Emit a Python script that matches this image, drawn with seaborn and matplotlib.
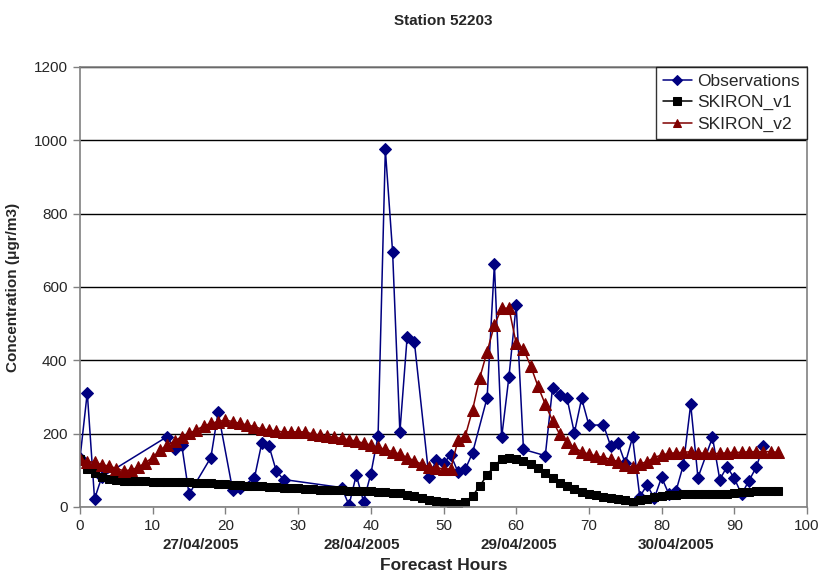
import matplotlib
matplotlib.use("Agg")
import matplotlib.pyplot as plt
import matplotlib.transforms as mtransforms
import seaborn as sns

# observations (hourly, with gaps)
obs_hours = [0, 1, 2, 3, 12, 13, 14, 15, 18, 19, 21, 22, 24, 25, 26, 27, 28,
             36, 37, 38, 39, 40, 41, 42, 43, 44, 45, 46, 48, 49, 50, 51, 52,
             53, 54, 56, 57, 58, 59, 60, 61, 64, 65, 66, 67, 68, 69, 70, 72,
             73, 74, 75, 76, 77, 78, 79, 80, 81, 82, 83, 84, 85, 87, 88, 89,
             90, 91, 92, 93, 94]
obs_vals = [133, 312, 22, 82, 192, 157, 168, 35, 135, 258, 46, 51, 80, 174, 166, 98, 75,
            53, 5, 87, 15, 90, 194, 975, 695, 204, 464, 449, 81, 128, 119, 142, 95,
            103, 148, 298, 662, 190, 355, 551, 157, 140, 325, 306, 296, 202, 296, 223, 224,
            166, 175, 119, 190, 28, 60, 24, 81, 35, 45, 115, 280, 80, 190, 75, 110,
            78, 35, 71, 108, 166]

model_hours = list(range(97))
skiron_v1 = [132, 105, 94, 83, 76, 73, 72, 71, 70, 70, 69, 69, 68, 68, 67, 67, 66, 66, 65, 64,
             62, 60, 59, 58, 57, 56, 55, 54, 53, 52, 51, 50, 49, 47, 47, 46, 46, 45, 45, 44,
             43, 42, 41, 39, 37, 33, 29, 25, 20, 17, 14, 12, 9, 15, 30, 58, 87, 113, 130, 135,
             131, 125, 117, 107, 92, 78, 65, 57, 49, 42, 35, 32, 28, 25, 23, 20, 15, 19, 23, 26,
             29, 32, 33, 35, 35, 35, 35, 35, 35, 36, 39, 41, 42, 44, 45, 45, 45]
skiron_v2 = [131, 124, 122, 115, 112, 105, 99, 101, 108, 121, 135, 155, 169, 180, 192, 201, 210, 221, 228, 233,
             237, 233, 228, 224, 219, 213, 210, 207, 205, 205, 205, 205, 199, 196, 194, 190, 187, 183, 180, 174,
             169, 163, 157, 151, 144, 135, 126, 117, 110, 107, 104, 104, 183, 194, 265, 353, 424, 496, 542, 542,
             446, 431, 384, 329, 280, 235, 198, 176, 162, 151, 144, 139, 135, 130, 124, 115, 108, 117, 124, 135,
             142, 146, 148, 149, 151, 148, 146, 146, 146, 148, 149, 149, 151, 151, 151, 151, 149]

date_labels = ["27/04/2005", "28/04/2005", "29/04/2005", "30/04/2005"]
date_x = [16.6, 38.7, 60.3, 82.0]

sns.set_style("white")
plt.rcParams["font.family"] = ["Liberation Sans", "DejaVu Sans"]

fig = plt.figure(figsize=(8.22, 5.74), dpi=100)
ax = fig.add_axes([80 / 822, 67 / 574, 727 / 822, 440 / 574])

sns.lineplot(x=obs_hours, y=obs_vals, ax=ax, color="#000080", linewidth=1.1,
             marker="D", markersize=6, markeredgecolor="#000080", label="Observations")
sns.lineplot(x=model_hours, y=skiron_v1, ax=ax, color="black", linewidth=1.1,
             marker="s", markersize=5.5, markeredgecolor="black", label="SKIRON_v1")
sns.lineplot(x=model_hours, y=skiron_v2, ax=ax, color="#800000", linewidth=1.1,
             marker="^", markersize=8, markeredgecolor="#800000", label="SKIRON_v2")

ax.set_xlim(0, 100)
ax.set_ylim(0, 1200)
ax.set_xticks(range(0, 101, 10))
ax.set_yticks(range(0, 1201, 200))
ax.grid(axis="y", color="black", linewidth=1)
ax.set_axisbelow(True)
for s in ax.spines.values():
    s.set_color("#808080")
    s.set_linewidth(1.2)
    s.set_visible(True)
ax.tick_params(axis="both", direction="out", length=5, width=1, color="#808080",
               labelsize=11, pad=4, bottom=True, left=True)

ax.set_title("Station 52203", fontsize=11, fontweight="bold", pad=30)
ax.set_xlabel("Forecast Hours", fontsize=12.5, fontweight="bold", labelpad=18)
ax.set_ylabel("Concentration (μgr/m3)", fontsize=11, fontweight="bold", labelpad=10)

trans = mtransforms.blended_transform_factory(ax.transData, ax.transAxes)
for lbl, xp in zip(date_labels, date_x):
    ax.text(xp, -0.086, lbl, transform=trans, ha="center", va="center",
            fontsize=11, fontweight="bold")

leg = ax.legend(loc="upper right", bbox_to_anchor=(1.0, 1.0), borderaxespad=0,
                frameon=True, fancybox=False, edgecolor="black", fontsize=12.5,
                handlelength=1.7, borderpad=0.4, labelspacing=0.35, handletextpad=0.3)
leg.get_frame().set_linewidth(1)
for h in leg.legend_handles:
    h.set_markersize(5.5)

fig.savefig("out.png", dpi=100)
